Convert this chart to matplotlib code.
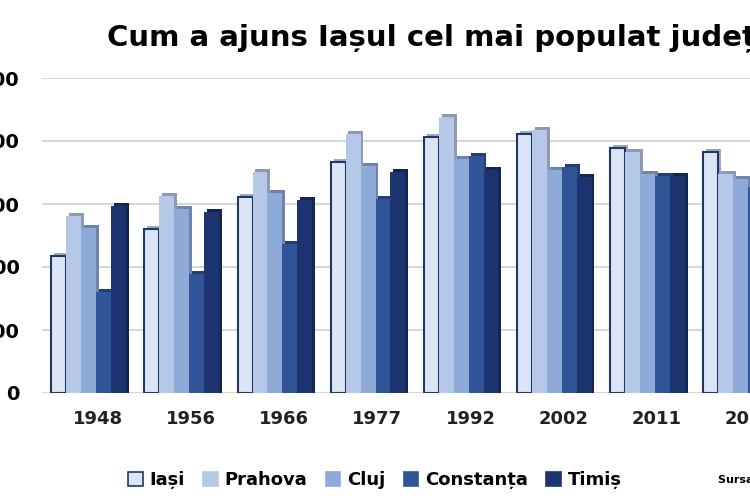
import matplotlib.pyplot as plt
import numpy as np
from matplotlib.patches import Patch

years = ['1948', '1956', '1966', '1977', '1992', '2002', '2011', '2021']
iasi = [435000, 521000, 622000, 733000, 813000, 822000, 778000, 765000]
prahova = [562000, 625000, 702000, 822000, 876000, 835000, 765000, 696000]
cluj = [524000, 584000, 635000, 721000, 743000, 708000, 695000, 679000]
constanta = [321000, 378000, 473000, 616000, 752000, 717000, 689000, 655000]
timis = [594000, 575000, 613000, 702000, 708000, 686000, 689000, 650000]

series = [('Iași', iasi), ('Prahova', prahova), ('Cluj', cluj),
          ('Constanța', constanta), ('Timiș', timis)]
colors = ['#dce5f5', '#b6c8e8', '#8eaad8', '#2f5597', '#1c3470']
shadows = ['#9aa8c4', '#8c9ab4', '#6f84ad', '#223f73', '#142650']

fig = plt.figure(figsize=(7.5, 5), dpi=100)
ax = fig.add_axes([0.056, 0.214, 0.944, 0.63])

x = np.arange(len(years))
w = 0.16
for i, (name, vals) in enumerate(series):
    pos = x + (i - 2) * w
    # fake 3d side
    ax.bar(pos + 0.03, np.array(vals) + 9000, w, color=shadows[i], zorder=2)
    ec = '#1f3864' if i == 0 else colors[i]
    ax.bar(pos, vals, w, color=colors[i], edgecolor=ec, linewidth=1.5 if i == 0 else 0, zorder=3)

ax.set_xlim(-0.5, 6.85)
ax.set_ylim(0, 1000000)
ax.set_yticks(range(0, 1000001, 200000))
ax.set_yticklabels(['0', '200.000', '400.000', '600.000', '800.000', '1.000.000'],
                   fontsize=14, fontweight='bold')
ax.set_xticks(x + 0.1)
ax.set_xticklabels(years, fontsize=13, fontweight='bold', color='#222222')
ax.tick_params(axis='y', length=0, pad=16)
ax.tick_params(axis='x', length=0, pad=12)
ax.grid(axis='y', color='#d0d0d0', linewidth=1.2, zorder=0)
for s in ax.spines.values():
    s.set_visible(False)

fig.text(0.143, 0.925, 'Cum a ajuns Iașul cel mai populat județ', fontsize=21,
         fontweight='bold', va='center')

handles = [Patch(facecolor=c, edgecolor='#1f3864' if i == 0 else c, linewidth=1.2)
           for i, c in enumerate(colors)]
fig.legend(handles, [s[0] for s in series], loc='center', bbox_to_anchor=(0.5, 0.04),
           ncol=5, frameon=False, prop={'size': 13, 'weight': 'bold'},
           handlelength=0.8, handleheight=0.8, columnspacing=1.0, handletextpad=0.4)
fig.text(0.957, 0.04, 'Sursa date: INS', fontsize=8, fontweight='bold', va='center')

fig.savefig('out.png', dpi=100)
